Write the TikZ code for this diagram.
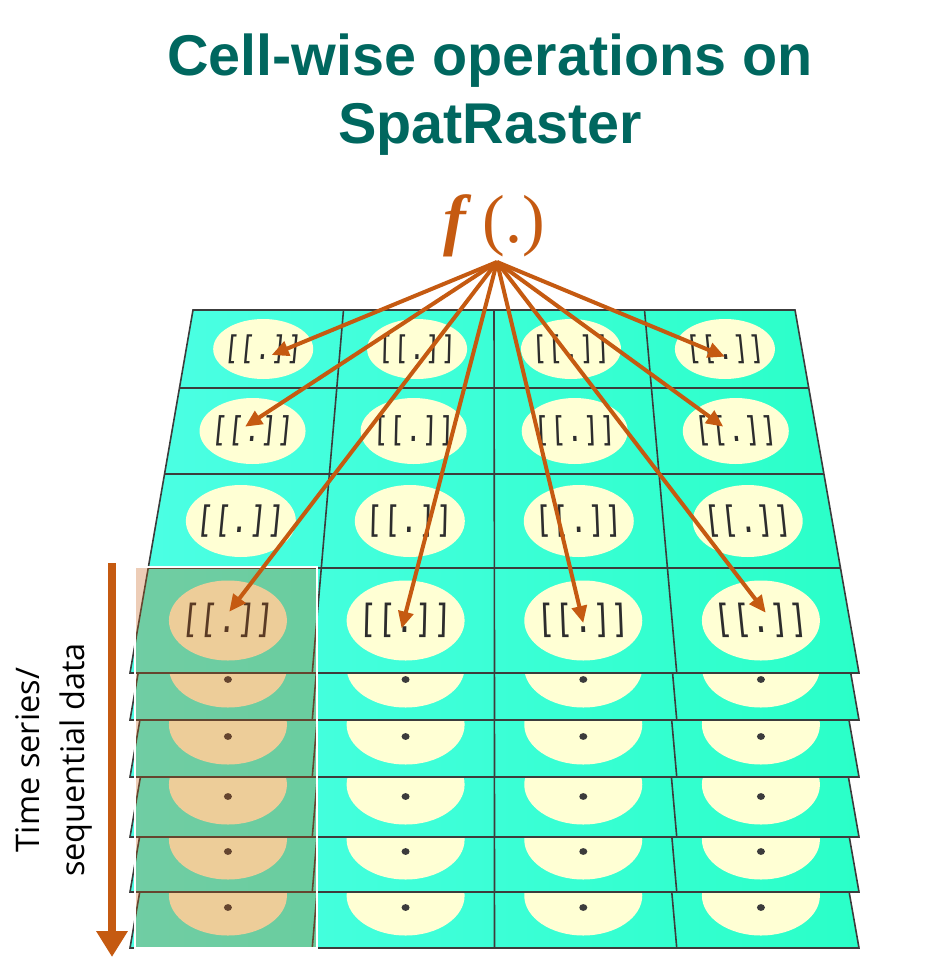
\documentclass[tikz,border=0pt]{standalone}
\usepackage{fontspec}
\setmainfont{Liberation Serif}
\setsansfont{Liberation Sans}
\newfontfamily\sidefont{Open Sans}
\newfontfamily\cellmono{DejaVu Sans Mono}
\usepackage{tikz}
\usetikzlibrary{
    arrows.meta,
    calc
}

\definecolor{titleteal}{RGB}{0,103,95}
\definecolor{fnorange}{RGB}{197,90,17}
\definecolor{cyanleft}{RGB}{76,255,228}
\definecolor{cyanright}{RGB}{42,255,200}
\definecolor{spotyellow}{RGB}{255,255,212}
\definecolor{gridgray}{RGB}{60,60,60}
\definecolor{inkgray}{RGB}{45,45,45}

\begin{document}
\begin{tikzpicture}[
        x=1pt, y=-1pt,
        layerfill/.style={left color=cyanleft, right color=cyanright},
        gridline/.style={draw=gridgray, line width=1.6pt},
        spot/.style={fill=spotyellow},
        cellval/.style={font=\cellmono\fontsize{31}{31}\selectfont, text=inkgray, inner sep=0pt, yscale=1.25},
        fnarrow/.style={-{Triangle[width=15pt, length=17pt]}, line width=4pt, fnorange},
        titletext/.style={font=\sffamily\bfseries\fontsize{57.5}{69}\selectfont, text=titleteal, anchor=base},
        sidelabel/.style={font=\sidefont\fontsize{32.5}{45}\selectfont, align=center, rotate=90},
    ]
    \useasboundingbox (0,0) rectangle (946,960);

    % Grid corners of the top raster layer
    \foreach \yy [count=\r from 0] in {310,388,474,568,673} {
        \pgfmathsetmacro{\xl}{193-(\yy-310)*0.17355}
        \pgfmathsetmacro{\xr}{795+(\yy-310)*0.17631}
        \foreach \c in {0,...,4}
            \coordinate (g-\r-\c) at ({\xl+\c*(\xr-\xl)/4}, \yy);
    }
    % Cell centres
    \foreach \r in {1,...,4} {
        \foreach \c in {1,...,4} {
            \pgfmathtruncatemacro{\rp}{\r-1}
            \pgfmathtruncatemacro{\cp}{\c-1}
            \coordinate (e-\r-\c) at ($0.25*(g-\rp-\cp)+0.25*(g-\rp-\c)+0.25*(g-\r-\cp)+0.25*(g-\r-\c)$);
        }
    }

    % Layers further down the series, deepest first
    \foreach \s in {275,219,164,104,47} {
        \shade[layerfill] ([yshift=-\s]g-0-0) -- ([yshift=-\s]g-0-4) -- ([yshift=-\s]g-4-4) -- ([yshift=-\s]g-4-0) -- cycle;
        \foreach \c in {1,...,4} {
            \fill[spot] ([yshift=-\s]e-4-\c) ellipse [x radius=59, y radius=40];
            \fill[gridgray] ([shift={(0,12)}, yshift=-\s]e-4-\c) ellipse [x radius=4, y radius=3.4];
        }
        \foreach \c in {1,2,3}
            \draw[gridline] ([yshift=-\s]g-3-\c) -- ([yshift=-\s]g-4-\c);
        \draw[gridline] ([yshift=-\s]g-0-0) -- ([yshift=-\s]g-0-4) -- ([yshift=-\s]g-4-4) -- ([yshift=-\s]g-4-0) -- cycle;
    }

    % Top layer
    \shade[layerfill] (g-0-0) -- (g-0-4) -- (g-4-4) -- (g-4-0) -- cycle;
    \foreach \r/\rx/\ry/\sc in {1/50/30/0.84, 2/53/33/0.88, 3/55/36/0.94, 4/59/40/1} {
        \foreach \c/\sl in {1/0.12, 2/0.03, 3/-0.05, 4/-0.13} {
            \fill[spot] (e-\r-\c) ellipse [x radius=\rx, y radius=\ry];
            \node[cellval, scale=\sc, xslant=\sl] (v-\r-\c) at (e-\r-\c) {[[.]]};
        }
    }
    \foreach \i in {1,2,3} {
        \draw[gridline] (g-\i-0) -- (g-\i-4);
        \draw[gridline] (g-0-\i) -- (g-4-\i);
    }
    \draw[gridline] (g-0-0) -- (g-0-4) -- (g-4-4) -- (g-4-0) -- cycle;

    % One cell followed through time
    \filldraw[fill=fnorange, fill opacity=0.3, draw=white, line width=2pt] (135,567) rectangle (317,948);

    % The function and where it is applied
    \node[font=\fontsize{68}{68}\selectfont, text=fnorange, anchor=base] (fn) at (494,242) {\textbf{\textit{f}}\,(.)};
    \coordinate (apex) at (497,262);
    \foreach \r/\c/\dx/\dy in {1/1/8.5/6, 2/1/-7.5/-4.3, 4/1/1.3/-8.8, 4/2/-4/8, 4/3/0/2.5, 4/4/4.8/-7.8, 2/4/-12.5/-4.3, 1/4/0/7.7}
        \draw[fnarrow] (apex) -- ([shift={(\dx,\dy)}]e-\r-\c);

    % Title
    \node[titletext] (title1) at (490,76) {Cell-wise operations on};
    \node[titletext] (title2) at (490,144) {SpatRaster};

    % Time axis
    \node[sidelabel] (series) at (54,760) {Time series/\\sequential data};
    \coordinate (tstart) at (112,563);
    \coordinate (tend) at (112,957);
    \draw[-{Triangle[width=30pt, length=26pt]}, line width=8pt, fnorange] (tstart) -- (tend);
\end{tikzpicture}
\end{document}
